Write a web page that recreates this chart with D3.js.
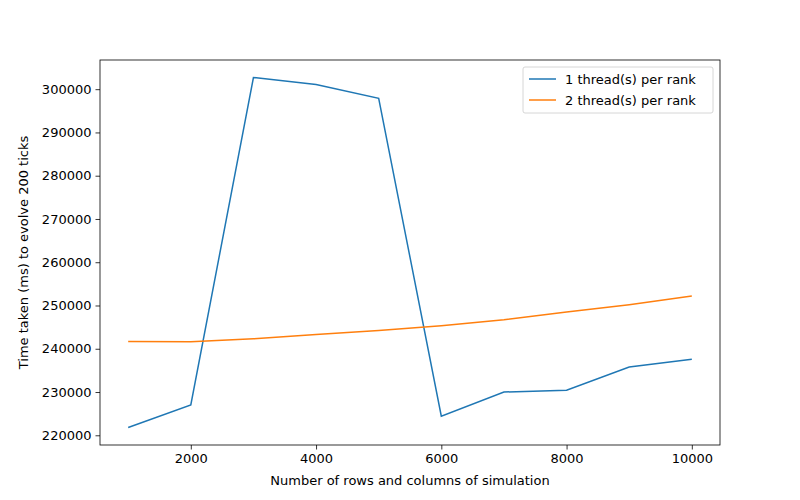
<!DOCTYPE html>
<html><head><meta charset="utf-8">
<script src="https://cdn.jsdelivr.net/npm/d3@7"></script>
<style>body{margin:0;background:#fff}text{font-family:"DejaVu Sans",sans-serif}</style>
</head><body><svg id="chart" width="800" height="500"></svg>
<script>
const sizes = [1000, 2000, 3000, 4000, 5000, 6000, 7000, 8000, 9000, 10000];
const oneThread = [221800, 227000, 302700, 301100, 297900, 224400, 230000, 230400, 235800, 237600];
const twoThread = [241700, 241600, 242300, 243300, 244200, 245300, 246700, 248500, 250200, 252200];
const seriesNames = ['1 thread(s) per rank', '2 thread(s) per rank'];
const colours = ['#1f77b4', '#ff7f0e'];

const m = {left: 100, right: 720, top: 60, bottom: 445};
const fs = '13px';
const svg = d3.select('#chart');

const x = d3.scaleLinear().domain([550, 10450]).range([m.left, m.right]);
const yMin = 221800, yMax = 302700, pad = (yMax - yMin) * 0.05;
const y = d3.scaleLinear().domain([yMin - pad, yMax + pad]).range([m.bottom, m.top]);

const xAxis = svg.append('g').attr('transform', `translate(0,${m.bottom})`)
  .call(d3.axisBottom(x).tickValues([2000, 4000, 6000, 8000, 10000]).tickFormat(d3.format('d')).tickSizeOuter(0).tickSize(4.5).tickPadding(4));
const yAxis = svg.append('g').attr('transform', `translate(${m.left},0)`)
  .call(d3.axisLeft(y).ticks(9).tickFormat(d3.format('d')).tickSizeOuter(0).tickSize(4.5).tickPadding(4));
[xAxis, yAxis].forEach(a => {
  a.select('.domain').remove();
  a.selectAll('text').style('font-size', fs).attr('fill', '#000');
  a.selectAll('line').attr('stroke', '#000').attr('stroke-width', 0.8);
});

svg.append('rect').attr('x', m.left).attr('y', m.top)
  .attr('width', m.right - m.left).attr('height', m.bottom - m.top)
  .attr('fill', 'none').attr('stroke', '#000').attr('stroke-width', 0.8);

const line = d3.line().x((d, i) => x(sizes[i])).y(d => y(d));
[oneThread, twoThread].forEach((s, k) => {
  svg.append('path').datum(s).attr('d', line)
    .attr('fill', 'none').attr('stroke', colours[k]).attr('stroke-width', 1.5);
});

svg.append('text').attr('x', (m.left + m.right) / 2).attr('y', 485)
  .attr('text-anchor', 'middle').style('font-size', fs)
  .text('Number of rows and columns of simulation');
svg.append('text').attr('transform', `translate(28,${(m.top + m.bottom) / 2}) rotate(-90)`)
  .attr('text-anchor', 'middle').style('font-size', fs)
  .text('Time taken (ms) to evolve 200 ticks');

const lg = svg.append('g').attr('transform', 'translate(523,67)');
lg.append('rect').attr('width', 190).attr('height', 46).attr('rx', 2)
  .attr('fill', '#fff').attr('stroke', '#ccc').attr('stroke-width', 0.8);
seriesNames.forEach((n, k) => {
  const yy = 12 + k * 21;
  lg.append('line').attr('x1', 6).attr('x2', 33).attr('y1', yy).attr('y2', yy)
    .attr('stroke', colours[k]).attr('stroke-width', 1.5);
  lg.append('text').attr('x', 42).attr('y', yy + 4.5).style('font-size', fs).text(n);
});
</script></body></html>
